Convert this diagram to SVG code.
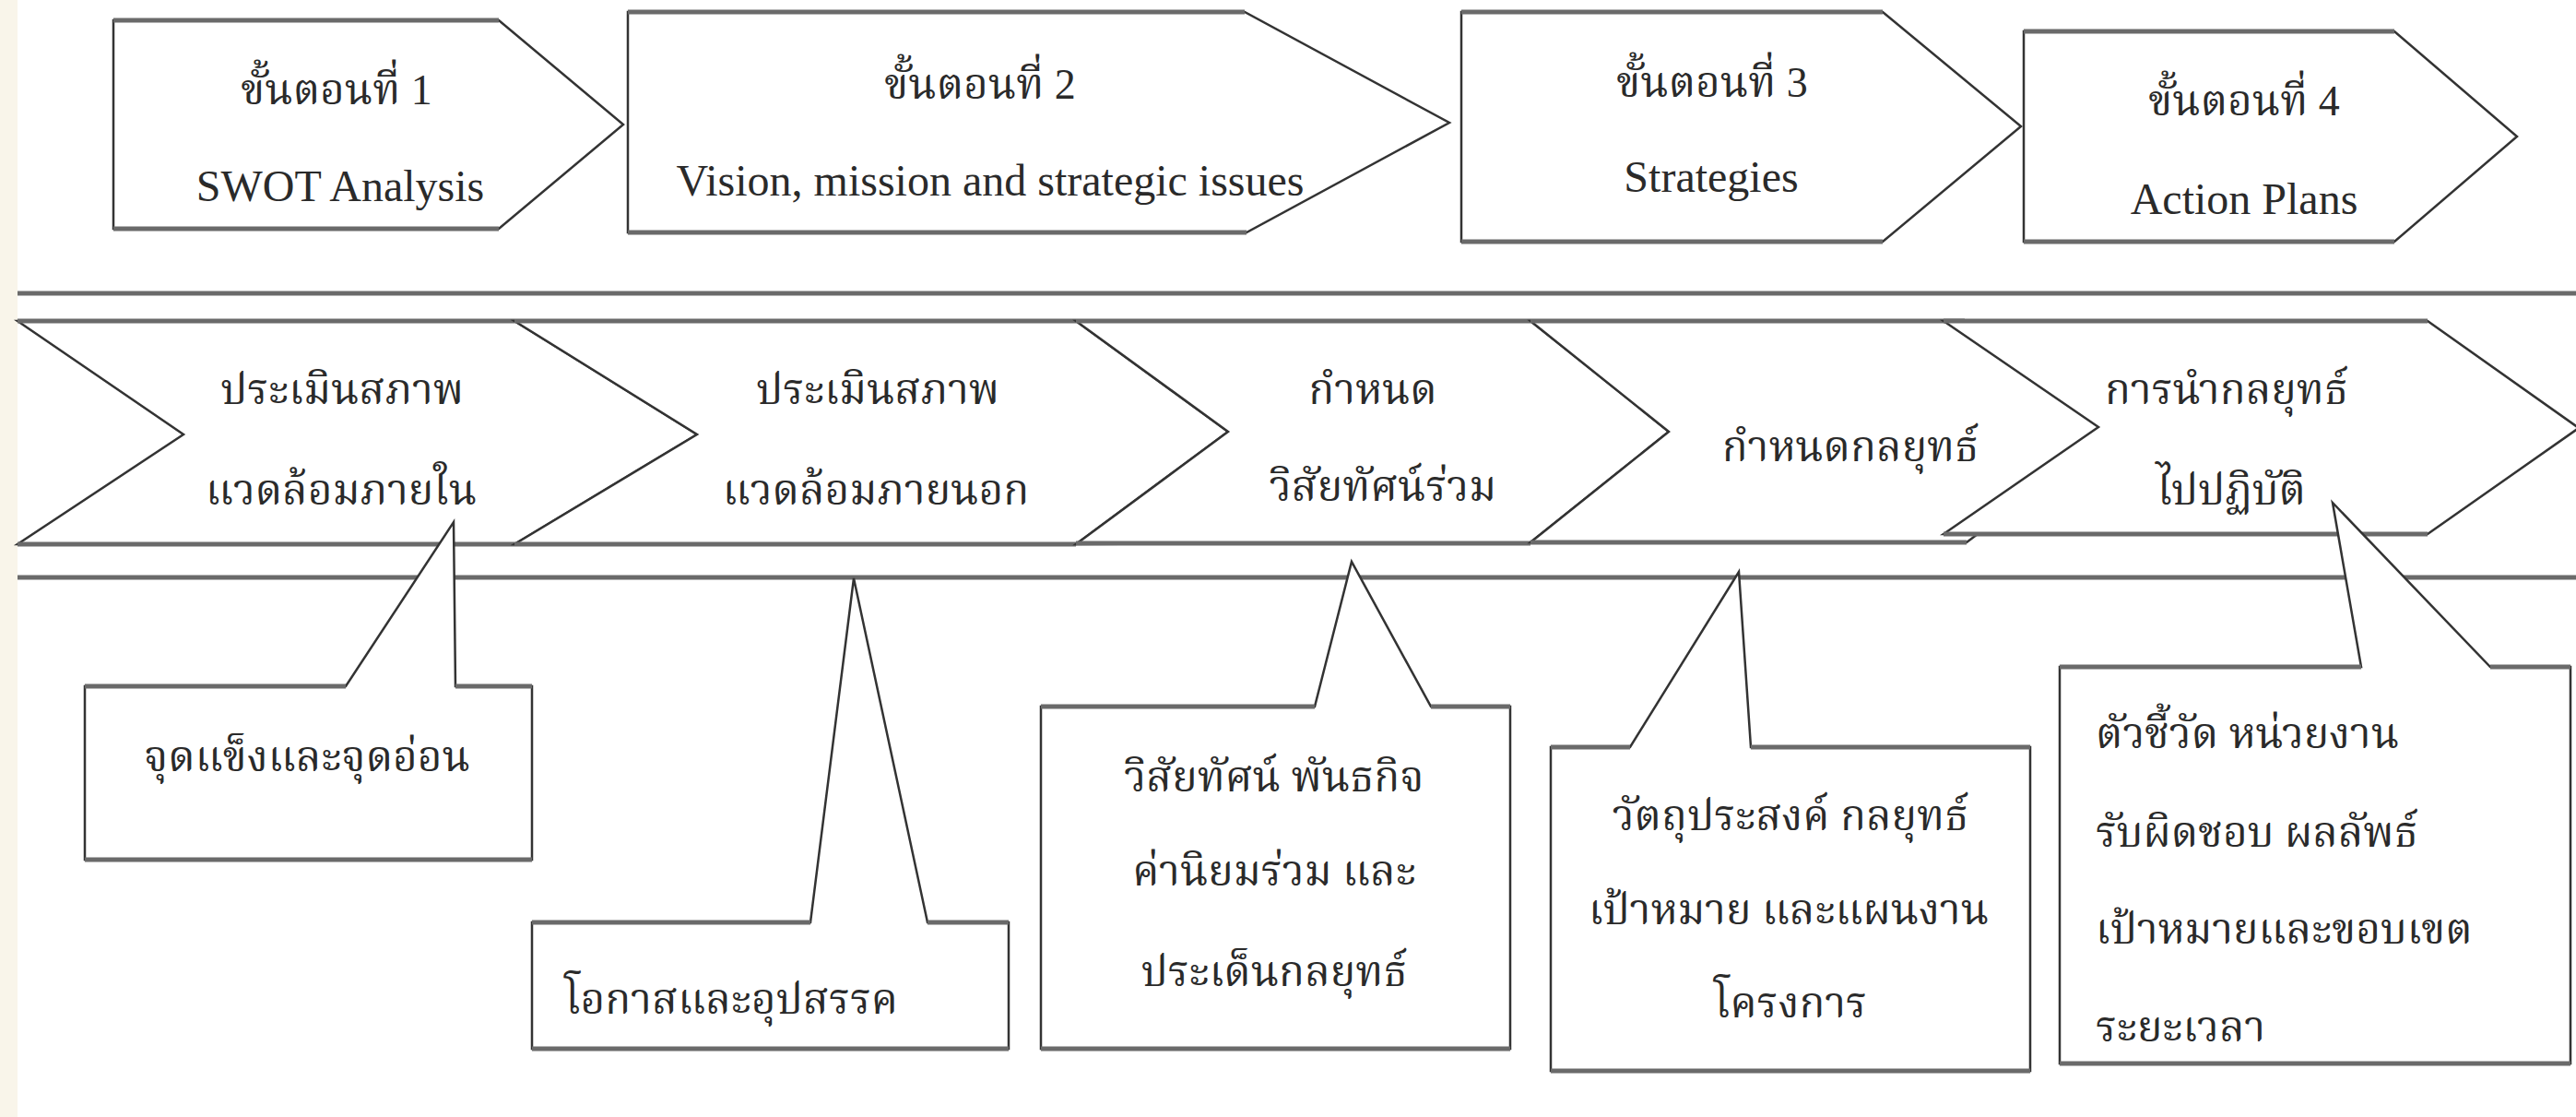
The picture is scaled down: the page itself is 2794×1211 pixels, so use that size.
<svg xmlns="http://www.w3.org/2000/svg" width="2794" height="1211" viewBox="0 0 2794 1211">
<style>
.shape{fill:#fff;stroke:#333;stroke-width:2.5;stroke-linejoin:miter}
.edge{fill:none;stroke:#6a6a6a;stroke-width:5}
.sep{fill:none;stroke:#6a6a6a;stroke-width:5}
text{font-family:'Liberation Serif','Noto Serif Thai','Noto Sans Thai',serif;fill:#2a2a2a}
.en{font-size:48px;text-anchor:middle}
.th{font-size:46px;text-anchor:middle}
.thl{font-size:46px;text-anchor:start}
</style>
<rect x="0" y="0" width="2794" height="1211" fill="#fff"/>
<rect x="0" y="0" width="19" height="1211" fill="#f9f5ea"/>

<g id="step1">
<polygon class="shape" points="123,22 541,22 676,135 541,248 123,248"/>
<path class="edge" d="M123,22H541M123,248H541"/>
<text class="th" x="365" y="113">ขั้นตอนที่ 1</text>
<text class="en" x="369" y="218">SWOT Analysis</text>
</g>
<g id="step2">
<polygon class="shape" points="681,13 1350,13 1572,133 1352,252 681,252"/>
<path class="edge" d="M681,13H1350M681,252H1352"/>
<text class="th" x="1063" y="107">ขั้นตอนที่ 2</text>
<text class="en" x="1074" y="212">Vision, mission and strategic issues</text>
</g>
<g id="step3">
<polygon class="shape" points="1585,13 2042,13 2192,137 2042,262 1585,262"/>
<path class="edge" d="M1585,13H2042M1585,262H2042"/>
<text class="th" x="1857" y="105">ขั้นตอนที่ 3</text>
<text class="en" x="1856" y="208">Strategies</text>
</g>
<g id="step4">
<polygon class="shape" points="2195,34 2597,34 2730,148 2597,262 2195,262"/>
<path class="edge" d="M2195,34H2597M2195,262H2597"/>
<text class="th" x="2434" y="125">ขั้นตอนที่ 4</text>
<text class="en" x="2434" y="232">Action Plans</text>
</g>

<g id="separators">
<path class="sep" d="M19,318H2794M19,626H2794"/>
</g>

<g id="phase1">
<polygon class="shape" points="19,348 558,348 756,471 558,590 19,590 199,471"/>
<path class="edge" d="M19,348H558M19,590H558"/>
<text class="th" x="371" y="438">ประเมินสภาพ</text>
<text class="th" x="370" y="547">แวดล้อมภายใน</text>
</g>
<g id="phase2">
<polygon class="shape" points="558,348 1167,348 1332,468 1167,590 558,590 756,471"/>
<path class="edge" d="M558,348H1167M558,590H1167"/>
<text class="th" x="952" y="438">ประเมินสภาพ</text>
<text class="th" x="950" y="547">แวดล้อมภายนอก</text>
</g>
<g id="phase3">
<polygon class="shape" points="1167,348 1660,348 1810,468 1660,588 1167,590 1332,468"/>
<path class="edge" d="M1167,348H1660M1167,589H1660"/>
<text class="th" x="1489" y="438">กำหนด</text>
<text class="th" x="1500" y="543">วิสัยทัศน์ร่วม</text>
</g>
<g id="phase4">
<polygon class="shape" points="1660,348 2131,348 2296,466 2133,588 1660,588 1810,468"/>
<path class="edge" d="M1660,348H2131M1660,588H2133"/>
<text class="th" x="2007" y="500">กำหนดกลยุทธ์</text>
</g>
<g id="phase5">
<polygon class="shape" points="2108,348 2633,348 2797,464 2633,579 2108,579 2276,463"/>
<path class="edge" d="M2108,348H2633M2108,579H2633"/>
<text class="th" x="2415" y="438">การนำกลยุทธ์</text>
<text class="th" x="2420" y="547">ไปปฏิบัติ</text>
</g>

<g id="connectors">
<g id="callout1">
<path class="shape" d="M92,744H375L492,566L494,744H577V932H92Z"/>
<path class="edge" d="M92,744H375M494,744H577M92,932H577"/>
<text class="th" x="333" y="836">จุดแข็งและจุดอ่อน</text>
</g>
<g id="callout2">
<path class="shape" d="M577,1000H879L926,627L1006,1000H1094V1137H577Z"/>
<path class="edge" d="M577,1000H879M1006,1000H1094M577,1137H1094"/>
<text class="th" x="793" y="1099">โอกาสและอุปสรรค</text>
</g>
<g id="callout3">
<path class="shape" d="M1129,766H1426L1466,609L1552,766H1638V1137H1129Z"/>
<path class="edge" d="M1129,766H1426M1552,766H1638M1129,1137H1638"/>
<text class="th" x="1382" y="858">วิสัยทัศน์ พันธกิจ</text>
<text class="th" x="1382" y="960">ค่านิยมร่วม และ</text>
<text class="th" x="1382" y="1069">ประเด็นกลยุทธ์</text>
</g>
<g id="callout4">
<path class="shape" d="M1682,810H1768L1886,620L1899,810H2202V1161H1682Z"/>
<path class="edge" d="M1682,810H1768M1899,810H2202M1682,1161H2202"/>
<text class="th" x="1942" y="900">วัตถุประสงค์ กลยุทธ์</text>
<text class="th" x="1940" y="1002">เป้าหมาย และแผนงาน</text>
<text class="th" x="1942" y="1103">โครงการ</text>
</g>
<g id="callout5">
<path class="shape" d="M2234,723H2561L2530,545L2701,723H2788V1153H2234Z"/>
<path class="edge" d="M2234,723H2561M2701,723H2788M2234,1153H2788"/>
<text class="thl" x="2273" y="811">ตัวชี้วัด หน่วยงาน</text>
<text class="thl" x="2273" y="918">รับผิดชอบ ผลลัพธ์</text>
<text class="thl" x="2273" y="1023">เป้าหมายและขอบเขต</text>
<text class="thl" x="2273" y="1129">ระยะเวลา</text>
</g>
</g>
</svg>
